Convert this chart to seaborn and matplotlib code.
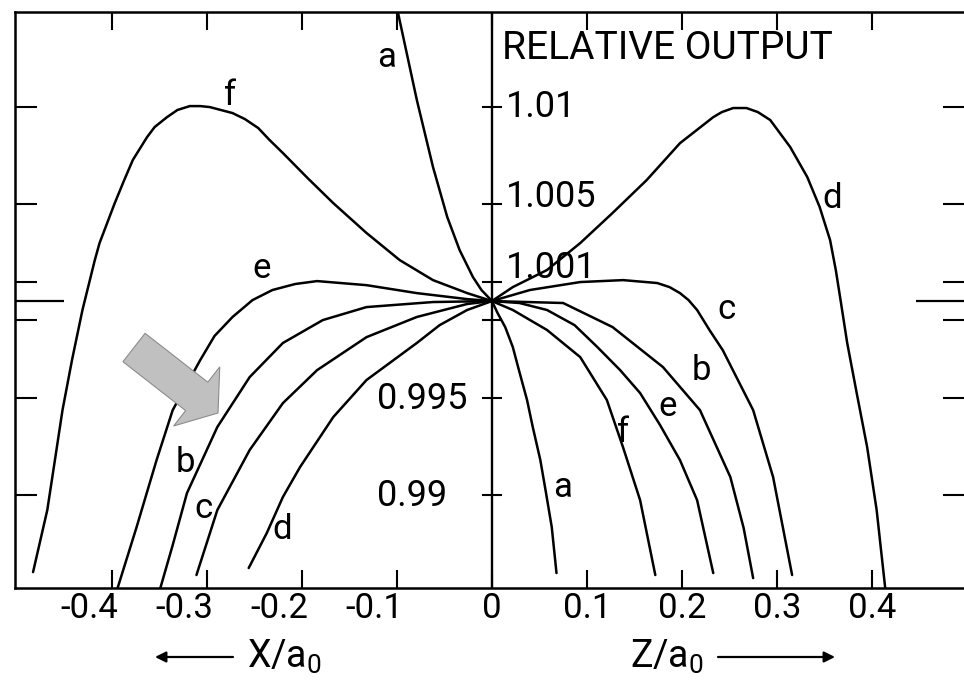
import matplotlib
matplotlib.use("Agg")
import matplotlib.pyplot as plt
import numpy as np
import pandas as pd
import seaborn as sns
from matplotlib.patches import FancyArrow, FancyArrowPatch
from matplotlib.transforms import ScaledTranslation

sns.set_theme(style="white")
plt.rcParams["font.family"] = ["Roboto", "DejaVu Sans"]
plt.rcParams["font.weight"] = "normal"
plt.rcParams["mathtext.default"] = "regular"
plt.rcParams["text.color"] = "black"

# ---- relative output profiles: X side (negative) and Z side (positive) ----
a_X_pos = [-0.099, -0.079, -0.062, -0.047, -0.034, -0.020, -0.011, -0.004, 0.0]
a_X_out = [1.01490, 1.01036, 1.00691, 1.00433, 1.00263, 1.00124, 1.00057, 1.00021, 1.0]
a_Z_pos = [0.0, 0.006, 0.014, 0.022, 0.029, 0.037, 0.043, 0.051, 0.057, 0.063, 0.068]
a_Z_out = [1.0, 0.99938, 0.99866, 0.99763, 0.99634, 0.99490, 0.99351, 0.99180, 0.99010, 0.98835, 0.98598]

f_X_pos = [-0.483, -0.468, -0.460, -0.452, -0.442, -0.431, -0.418, -0.413, -0.397, -0.387, -0.378,
           -0.363, -0.355, -0.342, -0.331, -0.318, -0.307, -0.297, -0.273, -0.260, -0.246, -0.234,
           -0.220, -0.194, -0.167, -0.132, -0.097, -0.062, -0.026, 0.0]
f_X_out = [0.98603, 0.98923, 0.99180, 0.99438, 0.99696, 0.99954, 1.00211, 1.00299, 1.00505, 1.00624,
           1.00727, 1.00845, 1.00897, 1.00948, 1.00985, 1.01005, 1.01005, 1.01000, 1.00969, 1.00938,
           1.00892, 1.00830, 1.00763, 1.00634, 1.00505, 1.00351, 1.00211, 1.00108, 1.00041, 1.0]
f_Z_pos = [0.0, 0.022, 0.058, 0.093, 0.121, 0.138, 0.156, 0.172]
f_Z_out = [1.0, 0.99954, 0.99851, 0.99711, 0.99490, 0.99247, 0.98974, 0.98588]

e_X_pos = [-0.394, -0.374, -0.353, -0.336, -0.307, -0.292, -0.273, -0.252, -0.231, -0.207, -0.184,
           -0.132, -0.079, -0.026, 0.0]
e_X_out = [0.98521, 0.98835, 0.99180, 0.99438, 0.99696, 0.99820, 0.99918, 1.00005, 1.00057, 1.00088,
           1.00103, 1.00082, 1.00041, 1.00010, 1.0]
e_Z_pos = [0.0, 0.029, 0.058, 0.087, 0.111, 0.135, 0.156, 0.177, 0.198, 0.216, 0.233]
e_Z_out = [1.0, 0.99990, 0.99954, 0.99876, 0.99763, 0.99644, 0.99526, 0.99361, 0.99180, 0.98974, 0.98598]

b_X_pos = [-0.349, -0.336, -0.321, -0.289, -0.255, -0.220, -0.178, -0.132, -0.062, 0.0]
b_X_out = [0.98521, 0.98742, 0.99010, 0.99351, 0.99608, 0.99784, 0.99902, 0.99969, 0.99995, 1.0]
b_Z_pos = [0.0, 0.075, 0.127, 0.180, 0.219, 0.251, 0.265, 0.275]
b_Z_out = [1.0, 0.99990, 0.99866, 0.99660, 0.99438, 0.99093, 0.98830, 0.98572]

c_X_pos = [-0.311, -0.289, -0.255, -0.220, -0.184, -0.132, -0.079, -0.026, 0.0]
c_X_out = [0.98588, 0.98923, 0.99232, 0.99474, 0.99644, 0.99814, 0.99918, 0.99985, 1.0]
c_Z_pos = [0.0, 0.040, 0.093, 0.138, 0.174, 0.187, 0.198, 0.207, 0.216, 0.229, 0.243, 0.275, 0.296,
           0.316]
c_Z_out = [1.0, 1.00057, 1.00098, 1.00108, 1.00093, 1.00072, 1.00041, 1.00005, 0.99954, 0.99851,
           0.99747, 0.99438, 0.99093, 0.98588]

d_X_pos = [-0.256, -0.237, -0.220, -0.202, -0.167, -0.132, -0.079, -0.055, -0.026, 0.0]
d_X_out = [0.98624, 0.98804, 0.98990, 0.99144, 0.99402, 0.99593, 0.99784, 0.99876, 0.99954, 1.0]
d_Z_pos = [0.0, 0.022, 0.058, 0.093, 0.127, 0.163, 0.198, 0.233, 0.242, 0.254, 0.268, 0.280, 0.293,
           0.314, 0.332, 0.345, 0.356, 0.362, 0.367, 0.374, 0.384, 0.395, 0.405, 0.414]
d_Z_out = [1.0, 1.00072, 1.00160, 1.00299, 1.00454, 1.00624, 1.00814, 1.00948, 1.00974, 1.00995,
           1.00995, 1.00974, 1.00933, 1.00794, 1.00639, 1.00485, 1.00314, 1.00160, 1.00005, 0.99784,
           0.99526, 0.99247, 0.98923, 0.98521]

# curve letters and where they are written
label_text = ["a", "f", "e", "b", "c", "d", "d", "c", "b", "e", "f", "a"]
label_pos = [-0.111, -0.276, -0.242, -0.323, -0.304, -0.221, 0.358, 0.247, 0.221, 0.185, 0.138, 0.074]
label_out = [1.01253, 1.01062, 1.00170, 0.99170, 0.98933, 0.98820, 1.00531, 0.99954, 0.99644,
             0.99454, 0.99325, 0.99041]

x_ticks = [-0.4, -0.3, -0.2, -0.1, 0.0, 0.1, 0.2, 0.3, 0.4]
x_tick_labels = ["-0.4", "-0.3", "-0.2", "-0.1", "0", "0.1", "0.2", "0.3", "0.4"]
y_ticks = [0.99, 0.995, 0.999, 1.001, 1.005, 1.01]
y_label_vals = [1.01, 1.005, 1.001, 0.995, 0.99]
y_label_text = ["1.01", "1.005", "1.001", "0.995", "0.99"]

traces = {
    "aX": (a_X_pos, a_X_out), "aZ": (a_Z_pos, a_Z_out),
    "fX": (f_X_pos, f_X_out), "fZ": (f_Z_pos, f_Z_out),
    "eX": (e_X_pos, e_X_out), "eZ": (e_Z_pos, e_Z_out),
    "bX": (b_X_pos, b_X_out), "bZ": (b_Z_pos, b_Z_out),
    "cX": (c_X_pos, c_X_out), "cZ": (c_Z_pos, c_Z_out),
    "dX": (d_X_pos, d_X_out), "dZ": (d_Z_pos, d_Z_out),
}
df = pd.concat(
    [pd.DataFrame({"pos": p, "output": o, "trace": k}) for k, (p, o) in traces.items()],
    ignore_index=True,
)

W, H = 964, 686
fig = plt.figure(figsize=(W / 100, H / 100), dpi=100)
fig.patch.set_facecolor("white")
ax = fig.add_axes([15 / W, 98 / H, 950 / W, 576 / H])
ax.set_facecolor("white")

sns.lineplot(data=df, x="pos", y="output", units="trace", estimator=None, sort=True,
             color="black", lw=1.8, ax=ax, legend=False)

ax.set_xlim(-0.502, 0.498)
ax.set_ylim(0.98521, 1.01490)
ax.set_xlabel("")
ax.set_ylabel("")
ax.grid(False)
for s in ax.spines.values():
    s.set_color("black")
    s.set_linewidth(1.8)

# frame ticks
ax.set_xticks(x_ticks)
ax.set_xticklabels(x_tick_labels)
ax.tick_params(axis="x", which="major", direction="in", top=True, bottom=True,
               length=13, width=1.5, color="black", labelsize=25, pad=3, labelcolor="black")
ax.set_yticks(y_ticks)
ax.set_yticklabels([])
ax.set_yticks([1.0], minor=True)
ax.tick_params(axis="y", which="major", direction="in", left=True, right=True,
               length=16, width=1.5, color="black")
ax.tick_params(axis="y", which="minor", direction="in", left=True, right=True,
               length=35, width=1.6, color="black")
for lbl, val in zip(ax.get_xticklabels(), x_ticks):
    if val < 0:
        lbl.set_horizontalalignment("right")
        lbl.set_transform(lbl.get_transform() + ScaledTranslation(6 / 100, 0, fig.dpi_scale_trans))

# central output axis with crossing ticks
ax.axvline(0, color="black", lw=1.7)
ax.plot([0] * len(y_ticks), y_ticks, ls="none", marker="_", ms=15, mew=1.5, color="black")
for val, txt in zip(y_label_vals, y_label_text):
    if val > 1:
        lift = {1.01: 0, 1.005: 5, 1.001: 10}[val]
        ax.annotate(txt, xy=(0, val), xytext=(10, lift), textcoords="offset points",
                    ha="left", va="center", fontsize=26, color="black")
    else:
        ax.annotate(txt, xy=(0, val), xytext=(-83, -1), textcoords="offset points",
                    ha="left", va="center", fontsize=26, color="black")
ax.text(0.0105, 1.01304, "RELATIVE OUTPUT", ha="left", va="center", fontsize=28, color="black")

# curve letters
for t, p, o in zip(label_text, label_pos, label_out):
    ax.text(p, o, t, ha="center", va="center", fontsize=25, color="black")

# axis captions with direction arrows
fig.text(247 / W, 1 - 668 / H, "X/a$_0$", ha="left", va="baseline", fontsize=27, color="black")
fig.text(630 / W, 1 - 668 / H, "Z/a$_0$", ha="left", va="baseline", fontsize=27, color="black")
arrow_kw = dict(arrowstyle="-|>", lw=1.6, color="black", mutation_scale=16, shrinkA=0, shrinkB=0)
fig.add_artist(FancyArrowPatch((233 / W, 1 - 657 / H), (155 / W, 1 - 657 / H),
                               transform=fig.transFigure, **arrow_kw))
fig.add_artist(FancyArrowPatch((718 / W, 1 - 657 / H), (835 / W, 1 - 657 / H),
                               transform=fig.transFigure, **arrow_kw))

# grey pointer arrow
pointer = FancyArrow(1.34, (H - 347.5) / 100, 0.84, -0.655, width=0.36, head_width=0.75,
                     head_length=0.27, length_includes_head=True,
                     transform=fig.dpi_scale_trans, facecolor="#c0c0c0", edgecolor="#8c8c8c",
                     lw=0.8, zorder=10)
fig.add_artist(pointer)

fig.savefig("out.png", dpi=100, facecolor="white")
